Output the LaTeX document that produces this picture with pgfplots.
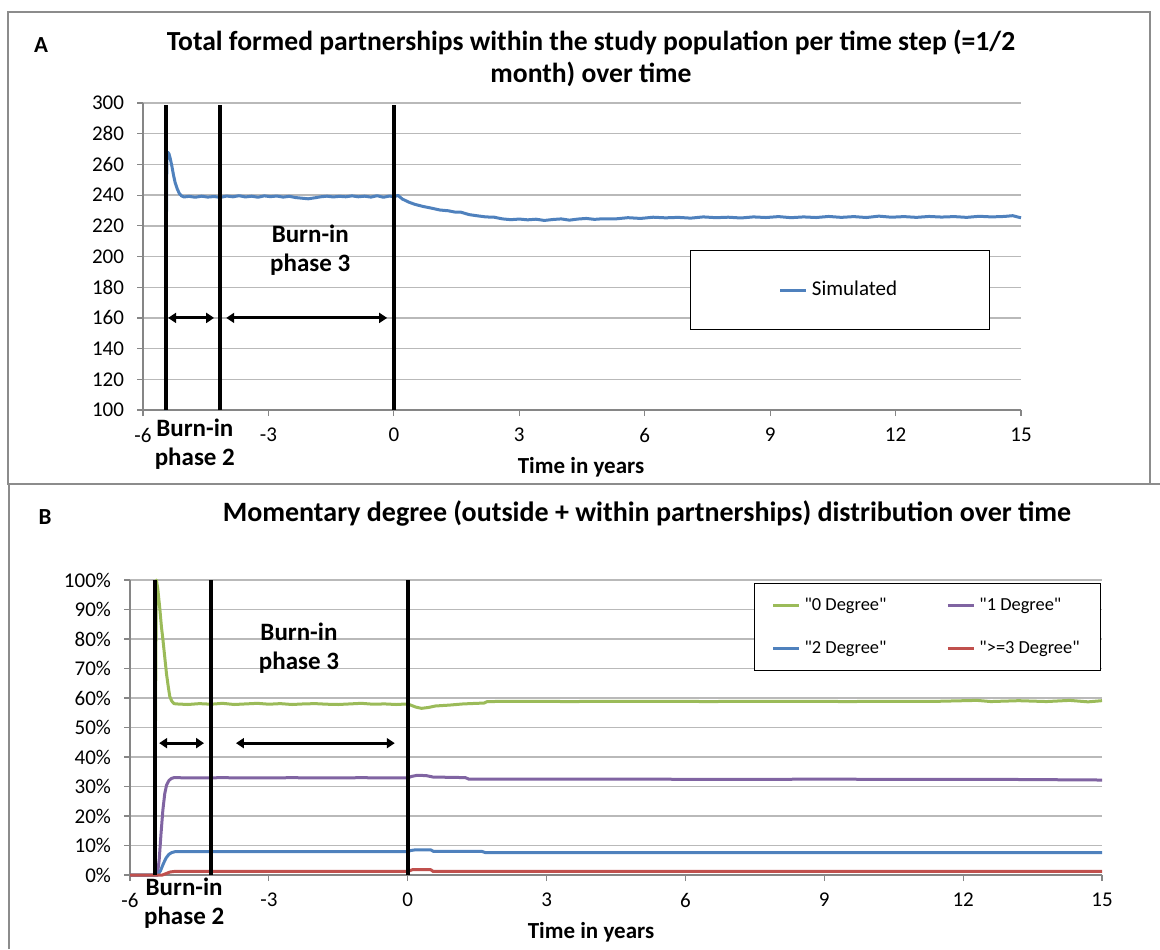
\documentclass[border=0pt]{standalone}
\usepackage{fontspec}
\setmainfont{Carlito}
\usepackage{pgfplots}
\pgfplotsset{compat=1.18}
\usetikzlibrary{arrows.meta}

\definecolor{exblue}{RGB}{79,129,189}
\definecolor{exgreen}{RGB}{155,187,89}
\definecolor{expurple}{RGB}{128,100,162}
\definecolor{exred}{RGB}{192,80,77}
\definecolor{gridgray}{RGB}{185,185,185}
\definecolor{axisgray}{RGB}{134,134,134}
\definecolor{framegray}{RGB}{140,140,140}

\pgfplotsset{
  excel/.style={
    scale only axis,
    axis x line=bottom, axis y line=left,
    axis line style={axisgray, line width=0.7pt, -},
    ymajorgrids, grid style={gridgray, line width=0.7pt},
    tick style={axisgray, line width=0.6pt},
    tick align=outside, major tick length=3pt,
    xmin=-6, xmax=15, xtick={-6,-3,...,15},
    /pgf/number format/assume math mode=true,
    tick label style={font=\fontsize{10.5}{12}\selectfont},
    xticklabel style={yshift=-2.5pt},
    yticklabel style={xshift=-3pt},
    clip=false,
    legend cell align=left,
    legend image code/.code={\draw[##1] (0pt,0pt) -- (13pt,0pt);},
  },
  sim/.style={line width=1.5pt, line join=round},
}
\tikzset{
  divider/.style={line width=2pt, black},
  span/.style={{Triangle[length=4pt,width=5pt]}-{Triangle[length=4pt,width=5pt]}, line width=1.5pt, black},
  phase/.style={font=\fontsize{12.5}{14.5}\selectfont\bfseries, align=center},
  axtitle/.style={font=\fontsize{11.5}{13}\selectfont\bfseries},
}

\begin{document}
\begin{tikzpicture}
\useasboundingbox (0pt,0pt) rectangle (580pt,-474.5pt);

% panel frames
\draw[framegray, line width=0.7pt] (4pt,-6pt) rectangle (575pt,-242pt);
\draw[framegray, line width=0.7pt] (4.5pt,-474.5pt) -- (4.5pt,-242pt) -- (580pt,-242pt);

% ---------------- Panel A ----------------
\node[font=\fontsize{11.5}{13}\selectfont\bfseries] at (20.5pt,-22.5pt) {A};
\node[font=\fontsize{13.8}{16}\selectfont\bfseries, align=center] at (295.5pt,-29pt)
  {Total formed partnerships within the study population per time step (=1/2\\month) over time};

\begin{axis}[excel,
  at={(71.5pt,-205pt)}, anchor=south west,
  width=439pt, height=153.5pt,
  ymin=100, ymax=300, ytick={100,120,...,300},
  legend style={at={(rel axis cs:0.623,0.521)}, anchor=north west,
    draw=black, line width=0.6pt, minimum width=149.5pt, minimum height=39.5pt,
    nodes={minimum width=0pt, minimum height=0pt},
    font=\fontsize{10.5}{12.5}\selectfont},
]
\addplot[sim, exblue] coordinates {
(-5.46,100) (-5.45,180) (-5.43,262) (-5.41,268) (-5.38,267) (-5.35,264) (-5.31,259)
(-5.27,253) (-5.23,248) (-5.18,244) (-5.13,241) (-5.08,239.5) (-5.02,238.8)
(-4.9,239.2) (-4.75,238.6) (-4.6,239.3) (-4.45,238.7) (-4.3,239.1) (-4.15,238.5)
(-4.0,239.4) (-3.85,238.9) (-3.7,239.6) (-3.55,238.8) (-3.4,239.3) (-3.25,238.6)
(-3.1,239.5) (-2.95,239.0) (-2.8,239.4) (-2.65,238.7) (-2.5,239.2) (-2.35,238.4)
(-2.2,238.0) (-2.05,237.6) (-1.9,238.2) (-1.75,238.9) (-1.6,239.3) (-1.45,238.8)
(-1.3,239.2) (-1.15,238.9) (-1.0,239.5) (-0.85,238.9) (-0.7,239.3) (-0.55,238.7)
(-0.4,239.6) (-0.25,238.6) (-0.1,239.4) (0.0,238.9) (0.1,239.8) (0.2,237.5)
(0.35,235.5) (0.5,234.0) (0.7,232.6) (0.9,231.5) (1.1,230.3) (1.3,229.8)
(1.45,229.0) (1.6,228.9) (1.8,227.3) (2.0,226.5) (2.2,225.8) (2.4,225.6)
(2.6,224.5) (2.8,224.0) (3.0,224.4) (3.2,223.9) (3.4,224.3) (3.6,223.5)
(3.8,224.1) (4.0,224.5) (4.2,223.7) (4.4,224.4) (4.6,224.8) (4.8,224.2)
(5.0,224.6) (5.3,224.5) (5.6,225.3) (5.9,224.8) (6.2,225.6) (6.5,225.2)
(6.8,225.5) (7.1,225.0) (7.4,225.8) (7.7,225.3) (8.0,225.6) (8.3,225.1)
(8.6,225.8) (8.9,225.4) (9.2,226.0) (9.5,225.3) (9.8,225.8) (10.1,225.4)
(10.4,226.1) (10.7,225.5) (11.0,226.0) (11.3,225.4) (11.6,226.3) (11.9,225.6)
(12.2,226.0) (12.5,225.5) (12.8,226.1) (13.1,225.7) (13.4,226.0) (13.7,225.5)
(14.0,226.2) (14.3,225.8) (14.6,226.1) (14.8,226.6) (15.0,225.2)
};
\addlegendentry{Simulated}

% burn-in phase boundaries
\draw[divider] (axis cs:-5.45,100) -- (axis cs:-5.45,299);
\draw[divider] (axis cs:-4.16,100) -- (axis cs:-4.16,299);
\draw[divider] (axis cs:0,100) -- (axis cs:0,299);
\draw[span] (axis cs:-5.40,160) -- (axis cs:-4.30,160);
\draw[span] (axis cs:-4.01,160) -- (axis cs:-0.16,160);
\node[phase] at (axis cs:-2.0,204) {Burn-in\\phase 3};
\node[phase] at (axis cs:-4.76,78) {Burn-in\\phase 2};
\end{axis}
\node[axtitle] at (290.5pt,-233.5pt) {Time in years};

% ---------------- Panel B ----------------
\node[font=\fontsize{11.5}{13}\selectfont\bfseries] at (22.5pt,-258.5pt) {B};
\node[font=\fontsize{14}{16}\selectfont\bfseries] at (323.5pt,-256.5pt)
  {Momentary degree (outside + within partnerships) distribution over time};

\begin{axis}[excel,
  at={(65pt,-437.5pt)}, anchor=south west,
  width=486pt, height=147.5pt,
  ymin=0, ymax=100, ytick={0,10,...,100},
  yticklabel={\pgfmathprintnumber{\tick}\%},
  legend columns=2,
  legend style={at={(rel axis cs:0.642,0.99)}, anchor=north west,
    draw=black, line width=0.6pt, minimum width=173pt, minimum height=43.5pt,
    nodes={minimum width=0pt, minimum height=0pt},
    font=\fontsize{9.2}{11}\selectfont, row sep=10pt,
    /tikz/every even column/.append style={column sep=28pt}},
]
\addplot[sim, exgreen] coordinates {
(-6,0) (-5.47,0) (-5.43,100) (-5.40,97) (-5.36,91) (-5.32,84) (-5.29,80) (-5.25,74)
(-5.21,68) (-5.17,63.5) (-5.14,60.5) (-5.10,59) (-5.05,58.1)
(-5.0,58.0) (-4.75,57.8) (-4.5,58.1) (-4.25,57.9) (-4.0,58.2) (-3.75,57.8)
(-3.5,58.0) (-3.25,58.2) (-3.0,57.9) (-2.75,58.1) (-2.5,57.8) (-2.25,58.0)
(-2.0,58.1) (-1.75,57.9) (-1.5,57.8) (-1.25,58.0) (-1.0,58.2) (-0.75,57.9)
(-0.5,58.0) (-0.25,57.8) (0.0,58.0) (0.08,57.5) (0.18,56.9) (0.3,56.5)
(0.45,56.8) (0.6,57.3) (0.9,57.6) (1.2,58.0) (1.5,58.2) (1.65,58.3) (1.72,58.8)
(2.5,58.9) (3.5,58.8) (4.5,58.9) (5.5,58.9) (6.5,58.8) (7.5,58.9) (8.5,58.9)
(9.5,58.8) (10.5,58.9) (11.5,58.9) (12.3,59.2) (12.6,58.8) (13.2,59.1)
(13.8,58.8) (14.3,59.2) (14.7,58.7) (15.0,59.1)
};
\addlegendentry{\textquotedbl 0 Degree\textquotedbl}
\addplot[sim, expurple] coordinates {
(-6,0) (-5.41,0) (-5.37,5) (-5.33,14) (-5.29,22) (-5.25,27.5) (-5.21,30.5)
(-5.16,32) (-5.11,32.7) (-5.05,33.0)
(-4.5,32.9) (-4.0,33.0) (-3.5,32.9) (-3.0,32.9) (-2.5,33.0) (-2.0,32.9)
(-1.5,32.9) (-1.0,33.0) (-0.5,32.9) (0.0,32.9) (0.08,33.4) (0.2,33.8)
(0.4,33.7) (0.55,33.2) (1.0,33.1) (1.25,33.0) (1.32,32.5) (3,32.5) (5,32.5)
(7,32.4) (9,32.5) (11,32.4) (13,32.4) (14,32.3) (15,32.2)
};
\addlegendentry{\textquotedbl 1 Degree\textquotedbl}
\addplot[sim, exblue] coordinates {
(-6,0) (-5.40,0) (-5.34,1.5) (-5.28,3.8) (-5.22,5.8) (-5.16,7.0) (-5.10,7.6)
(-5.03,7.9)
(-4.5,7.9) (-4.0,7.9) (-3.0,7.9) (-2.0,7.9) (-1.0,7.9) (0.0,7.9) (0.06,8.3)
(0.15,8.5) (0.5,8.5) (0.56,8.0) (1.6,8.0) (1.68,7.6) (4,7.6) (8,7.6) (12,7.6)
(15,7.6)
};
\addlegendentry{\textquotedbl 2 Degree\textquotedbl}
\addplot[sim, exred] coordinates {
(-6,0) (-5.30,0) (-5.22,0.5) (-5.14,1.0) (-5.05,1.2)
(-4,1.2) (-2,1.2) (0.0,1.2) (0.1,1.8) (0.5,1.8) (0.55,1.2) (3,1.2) (6,1.2)
(9,1.2) (12,1.2) (15,1.2)
};
\addlegendentry{\textquotedbl >=3 Degree\textquotedbl}

\draw[divider] (axis cs:-5.45,0) -- (axis cs:-5.45,100);
\draw[divider] (axis cs:-4.25,0) -- (axis cs:-4.25,100);
\draw[divider] (axis cs:0,0) -- (axis cs:0,100);
\draw[span] (axis cs:-5.37,44.7) -- (axis cs:-4.40,44.7);
\draw[span] (axis cs:-3.71,44.7) -- (axis cs:-0.28,44.7);
\node[phase] at (axis cs:-2.35,77) {Burn-in\\phase 3};
\node[phase] at (axis cs:-4.83,-9.5) {Burn-in\\phase 2};
\end{axis}
\node[axtitle] at (295.5pt,-466pt) {Time in years};
\end{tikzpicture}
\end{document}
